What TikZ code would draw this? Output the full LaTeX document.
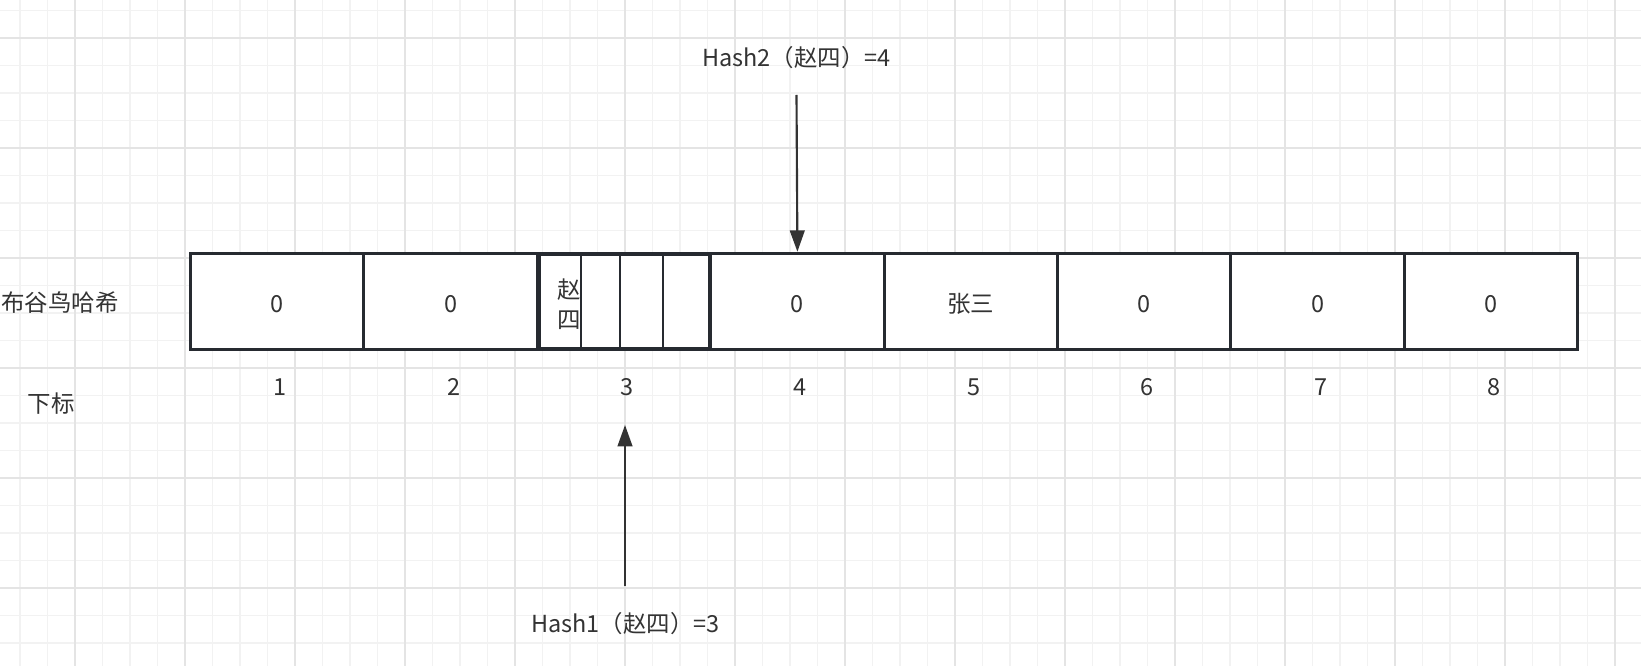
\documentclass[tikz,border=0pt]{standalone}
\usepackage{fontspec}
\setmainfont{Noto Sans CJK SC}
\usetikzlibrary{arrows.meta,positioning}
\definecolor{Ink}{HTML}{262A30}
\definecolor{Txt}{HTML}{333333}
\definecolor{GridMinor}{HTML}{F2F2F2}
\definecolor{GridMajor}{HTML}{E4E4E4}

\begin{document}
\begin{tikzpicture}[x=0.75pt,y=-0.75pt,font=\fontsize{17.6}{22.5}\selectfont,>={Triangle[length=16pt,width=11pt]},
    cell/.style={draw=Ink,fill=white,line width=2.1pt,minimum width=130pt,minimum height=72.5pt,inner sep=0pt,text=Txt,text height=15.9pt,text depth=0pt},
    subcell/.style={draw=Ink,line width=2.1pt},
    lbl/.style={text=Txt,inner sep=0pt},
    link/.style={draw=Txt,line width=1.6pt,->}]
    \fill[white] (0,0) rectangle (1641,666);
    \useasboundingbox (0,0) rectangle (1641,666);
    % grid
    \foreach \x in {20,47.5,...,1641}{\draw[GridMinor,line width=0.9pt] (\x,0) -- (\x,666);}
    \foreach \y in {10.5,38,...,666}{\draw[GridMinor,line width=0.9pt] (0,\y) -- (1641,\y);}
    \foreach \x in {75,185,...,1641}{\draw[GridMajor,line width=1.2pt] (\x,0) -- (\x,666);}
    \foreach \y in {38,148,...,666}{\draw[GridMajor,line width=1.2pt] (0,\y) -- (1641,\y);}
    % cells and indices
    \foreach \i/\v in {1/0,2/0,3/,4/0,5/张三,6/0,7/0,8/0}{
      \node[cell] (b\i) at ({190.5+173.4*(\i-0.5)},301.5) {\v};
      \node[lbl] (i\i) at ({193.5+173.4*(\i-0.5)},387) {\i};
    }
    \draw[subcell] (540,255) rectangle (581,348);
    \draw[subcell] (581,255) rectangle (620,348);
    \draw[subcell] (620,255) rectangle (663,348);
    \draw[subcell] (663,255) rectangle (709,348);
    \node[lbl,align=center] (zs) at (569,304) {赵\\四};
    % side labels
    \node[lbl] (name) at (60,303) {布谷鸟哈希};
    \node[lbl] (sub) at (51,404) {下标};
    % hash arrows
    \node[lbl] (h2) at (796.5,58) {Hash2（赵四）=4};
    \coordinate (h2tail) at (796.5,95);
    \draw[link] (h2tail) -- (b4.north);
    \node[lbl] (h1) at (625.5,624) {Hash1（赵四）=3};
    \coordinate (h1tail) at (625,586);
    \coordinate (h1tip) at (625,425);
    \draw[link] (h1tail) -- (h1tip);
\end{tikzpicture}
\end{document}
